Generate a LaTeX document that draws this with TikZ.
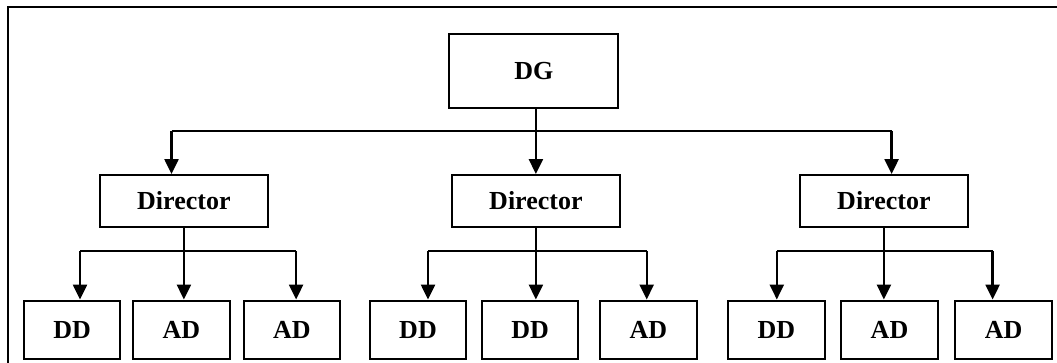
\documentclass[tikz,border=0pt]{standalone}
\usepackage{fontspec}
\setmainfont{Liberation Serif}
\usetikzlibrary{arrows.meta}
\begin{document}
\begin{tikzpicture}[x=1pt,y=-1pt,
  box/.style={draw, line width=2pt, inner sep=0pt, minimum width=#1,
    font=\fontsize{26}{30}\selectfont\bfseries},
  topbox/.style={box=169pt, minimum height=74pt},
  dirbox/.style={box=168pt, minimum height=51.5pt},
  leafbox/.style={box=96.5pt, minimum height=58.5pt},
  conn/.style={line width=2.4pt},
  arr/.style={conn, -{Triangle[width=14pt,length=15pt]}}]
\useasboundingbox (0,0) rectangle (1057,363);
\draw[line width=2.2pt] (7.6,363) -- (7.6,6.9) -- (1057,6.9);
% top
\node[topbox] (dg) at (533.9,70.6) {DG};
\node[dirbox] (d1) at (183.9,200.8) {Director};
\node[dirbox] (d2) at (535.9,200.8) {Director};
\node[dirbox] (d3) at (883.9,200.8) {Director};
% leaves
\node[leafbox] (b11) at (72.2,329.8) {DD};
\node[leafbox] (b12) at (181.5,329.8) {AD};
\node[leafbox] (b13) at (291.9,329.8) {AD};
\node[leafbox] (b21) at (418,329.8) {DD};
\node[leafbox] (b22) at (530.2,329.8) {DD};
\node[leafbox] (b23) at (648.4,329.8) {AD};
\node[leafbox] (b31) at (776.4,329.8) {DD};
\node[leafbox] (b32) at (889.5,329.8) {AD};
\node[leafbox] (b33) at (1003.6,329.8) {AD};
% top level connectors
\coordinate (h0) at (0,130.9);
\coordinate (tl) at ([xshift=-12.4pt]d1.north);
\coordinate (tr) at ([xshift=7.7pt]d3.north);
\draw[conn] (tl |- h0) -- (tr |- h0);
\draw[arr] (tl |- h0) -- (tl);
\draw[arr] (tr |- h0) -- (tr);
\draw[arr] (dg.south -| d2.north) -- (d2.north);
% group connectors
\coordinate (h1) at (0,251.3);
\coordinate (t11) at ([xshift=7.8pt]b11.north);
\coordinate (t13) at ([xshift=4.2pt]b13.north);
\coordinate (t21) at ([xshift=10pt]b21.north);
\coordinate (t23) at ([xshift=-1.7pt]b23.north);
\coordinate (t31) at ([xshift=0.4pt]b31.north);
\coordinate (t33) at ([xshift=-11pt]b33.north);
\draw[conn] (t11 |- h1) -- (t13 |- h1);
\draw[conn] (t21 |- h1) -- (t23 |- h1);
\draw[conn] (t31 |- h1) -- (t33 |- h1);
\draw[arr] (t11 |- h1) -- (t11);
\draw[arr] (t13 |- h1) -- (t13);
\draw[arr] (t21 |- h1) -- (t21);
\draw[arr] (t23 |- h1) -- (t23);
\draw[arr] (t31 |- h1) -- (t31);
\draw[arr] (t33 |- h1) -- (t33);
\draw[arr] (d1.south) -- (d1.south |- b12.north);
\draw[arr] (d2.south) -- (d2.south |- b22.north);
\draw[arr] (d3.south) -- (d3.south |- b32.north);
\end{tikzpicture}
\end{document}
